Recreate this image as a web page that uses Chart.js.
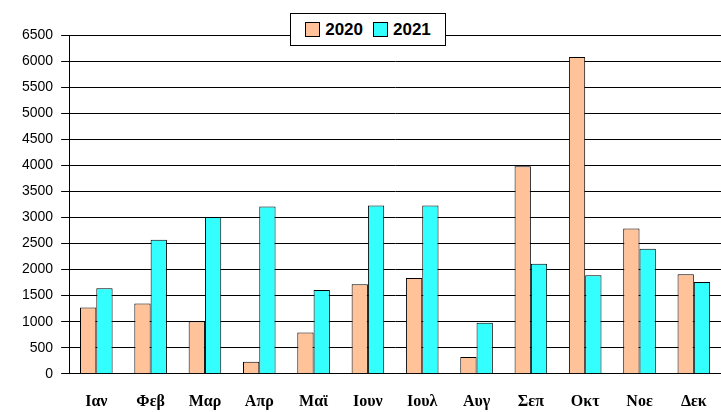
<!DOCTYPE html>
<html><head><meta charset="utf-8">
<script src="https://cdn.jsdelivr.net/npm/chart.js@4"></script>
<style>
body{margin:0;background:#fff;width:721px;height:412px;overflow:hidden;position:relative}
#wrap{position:absolute;left:0;top:0;width:721px;height:421px}
#leg{position:absolute;left:290px;top:13px;width:154px;height:31px;border:1px solid #000;background:#fff;font:bold 17px Arial,"Liberation Sans";display:flex;align-items:center;justify-content:center;gap:10px}
#leg span{display:inline-flex;align-items:center;gap:5px}
#leg i{display:inline-block;width:13px;height:13px;border:1px solid #000}
</style></head><body>
<div id="wrap"><canvas id="c"></canvas></div>
<div id="leg"><span><i style="background:#FFC299"></i>2020</span><span><i style="background:#33FFFF"></i>2021</span></div>
<script>
const categories=["Ιαν","Φεβ","Μαρ","Απρ","Μαϊ","Ιουν","Ιουλ","Αυγ","Σεπ","Οκτ","Νοε","Δεκ"];
const values2020=[1270,1350,1010,230,790,1720,1840,320,3980,6080,2790,1910];
const values2021=[1640,2570,3010,3210,1610,3230,3230,980,2110,1890,2400,1760];
new Chart(document.getElementById('c'),{type:'bar',
data:{labels:categories,datasets:[
{label:'2020',data:values2020,backgroundColor:'#FFC299',borderColor:'#000',borderWidth:1},
{label:'2021',data:values2021,backgroundColor:'#33FFFF',borderColor:'#000',borderWidth:1}]},
options:{responsive:true,maintainAspectRatio:false,animation:false,
layout:{padding:{top:35,right:0,left:14,bottom:0}},
plugins:{legend:{display:false},tooltip:{enabled:false}},
datasets:{bar:{categoryPercentage:0.6,barPercentage:1}},
scales:{
x:{grid:{display:false},border:{color:'#000'},ticks:{padding:10,color:'#000',font:{family:'"Liberation Serif"',size:16,weight:'bold'}}},
y:{min:0,max:6500,ticks:{stepSize:500,padding:8,color:'#000',callback:v=>String(v),font:{family:'Arial, "Liberation Sans"',size:14}},grid:{color:'#000'},border:{color:'#000'}}}}});
</script></body></html>
